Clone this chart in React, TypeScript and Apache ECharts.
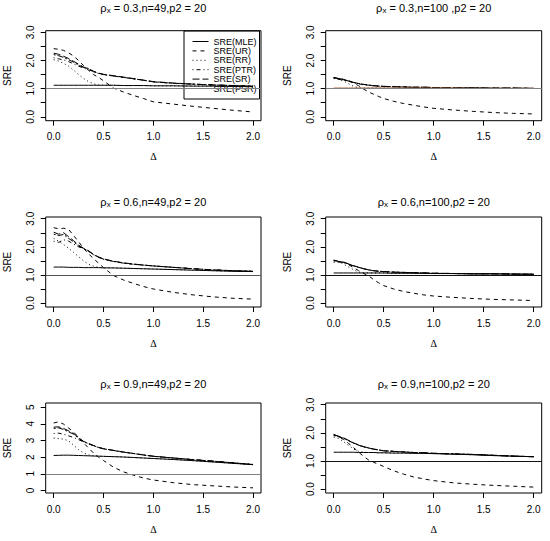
import React, { useEffect, useRef } from "react";
import * as echarts from "echarts";

// ---------- data ----------
const DELTA = [0, 0.05, 0.1, 0.15, 0.2, 0.25, 0.3, 0.35, 0.4, 0.45, 0.5, 0.6, 0.7, 0.8, 0.9, 1.0, 1.2, 1.4, 1.6, 1.8, 2.0];
const X_TICKS = [0, 0.5, 1, 1.5, 2];
const Y_TICKS_3 = [0, 0.5, 1, 1.5, 2, 2.5, 3];
const Y_LABELS_3 = [0, 1, 2, 3];
const Y_TICKS_5 = [0, 1, 2, 3, 4, 5];
const ESTIMATORS = ["SRE(MLE)", "SRE(UR)", "SRE(RR)", "SRE(PTR)", "SRE(SR)", "SRE(PSR)"];
const TITLE_RHO = ["0.3", "0.3", "0.6", "0.6", "0.9", "0.9"];
const TITLE_REST = [",n=49,p2 = 20", ",n=100 ,p2 = 20", ",n=49,p2 = 20", ",n=100,p2 = 20", ",n=49,p2 = 20", ",n=100,p2 = 20"];

// panel 1: rho 0.3, n 49
const P1_MLE = [1.12, 1.12, 1.12, 1.12, 1.12, 1.12, 1.12, 1.12, 1.12, 1.12, 1.12, 1.12, 1.11, 1.11, 1.11, 1.10, 1.10, 1.09, 1.09, 1.08, 1.07];
const P1_UR = [2.42, 2.40, 2.36, 2.27, 2.16, 2.00, 1.82, 1.65, 1.50, 1.40, 1.28, 1.02, 0.88, 0.76, 0.65, 0.53, 0.45, 0.37, 0.30, 0.23, 0.17];
const P1_RR = [2.03, 1.98, 1.90, 1.80, 1.66, 1.50, 1.36, 1.25, 1.17, 1.13, 1.12, 1.12, 1.11, 1.11, 1.11, 1.10, 1.10, 1.09, 1.09, 1.08, 1.07];
const P1_PTR = [2.10, 2.06, 2.02, 1.96, 1.88, 1.80, 1.73, 1.67, 1.61, 1.55, 1.50, 1.45, 1.40, 1.35, 1.30, 1.24, 1.19, 1.16, 1.13, 1.11, 1.09];
const P1_SR = [2.26, 2.22, 2.15, 2.07, 1.97, 1.87, 1.77, 1.70, 1.62, 1.55, 1.51, 1.46, 1.41, 1.36, 1.30, 1.25, 1.20, 1.16, 1.13, 1.11, 1.09];
const P1_PSR = [2.21, 2.17, 2.11, 2.03, 1.94, 1.84, 1.75, 1.72, 1.60, 1.54, 1.50, 1.45, 1.40, 1.35, 1.30, 1.24, 1.19, 1.16, 1.13, 1.11, 1.09];

// panel 2: rho 0.3, n 100
const P2_MLE = [1.02, 1.02, 1.02, 1.02, 1.02, 1.02, 1.02, 1.02, 1.02, 1.02, 1.02, 1.02, 1.02, 1.02, 1.02, 1.02, 1.02, 1.01, 1.01, 1.01, 1.01];
const P2_UR = [1.40, 1.37, 1.33, 1.28, 1.20, 1.10, 0.98, 0.88, 0.80, 0.72, 0.65, 0.55, 0.47, 0.41, 0.35, 0.30, 0.24, 0.19, 0.15, 0.12, 0.10];
const P2_RR = [1.38, 1.33, 1.27, 1.17, 1.08, 1.03, 1.02, 1.02, 1.02, 1.02, 1.02, 1.02, 1.02, 1.02, 1.02, 1.02, 1.02, 1.01, 1.01, 1.01, 1.01];
const P2_PTR = [1.36, 1.33, 1.30, 1.26, 1.21, 1.17, 1.14, 1.12, 1.10, 1.09, 1.08, 1.07, 1.06, 1.05, 1.05, 1.04, 1.03, 1.03, 1.02, 1.02, 1.01];
const P2_SR = [1.39, 1.35, 1.31, 1.27, 1.22, 1.18, 1.15, 1.12, 1.10, 1.09, 1.08, 1.07, 1.06, 1.05, 1.05, 1.04, 1.03, 1.03, 1.02, 1.02, 1.01];
const P2_PSR = [1.38, 1.36, 1.32, 1.28, 1.22, 1.18, 1.15, 1.13, 1.11, 1.09, 1.08, 1.07, 1.06, 1.05, 1.05, 1.04, 1.03, 1.03, 1.02, 1.02, 1.01];

// panel 3: rho 0.6, n 49
const P3_MLE = [1.28, 1.28, 1.28, 1.27, 1.27, 1.27, 1.26, 1.26, 1.26, 1.26, 1.25, 1.25, 1.24, 1.23, 1.22, 1.21, 1.19, 1.17, 1.15, 1.13, 1.12];
const P3_UR = [2.68, 2.64, 2.66, 2.62, 2.40, 2.18, 1.95, 1.75, 1.58, 1.42, 1.26, 0.98, 0.82, 0.70, 0.59, 0.50, 0.38, 0.29, 0.22, 0.17, 0.14];
const P3_RR = [2.30, 2.20, 2.08, 1.95, 1.80, 1.65, 1.50, 1.38, 1.31, 1.27, 1.26, 1.25, 1.24, 1.23, 1.22, 1.21, 1.19, 1.17, 1.15, 1.13, 1.12];
const P3_PTR = [2.20, 2.16, 2.25, 2.20, 2.10, 2.00, 1.93, 1.84, 1.72, 1.63, 1.56, 1.48, 1.42, 1.38, 1.35, 1.32, 1.27, 1.22, 1.18, 1.15, 1.13];
const P3_SR = [2.52, 2.45, 2.50, 2.36, 2.22, 2.06, 1.95, 1.86, 1.73, 1.64, 1.57, 1.49, 1.43, 1.39, 1.35, 1.32, 1.27, 1.22, 1.18, 1.15, 1.13];
const P3_PSR = [2.45, 2.40, 2.44, 2.30, 2.18, 2.03, 1.94, 1.85, 1.72, 1.63, 1.56, 1.48, 1.42, 1.38, 1.35, 1.32, 1.27, 1.22, 1.18, 1.15, 1.13];

// panel 4: rho 0.6, n 100
const P4_MLE = [1.07, 1.07, 1.07, 1.07, 1.07, 1.07, 1.07, 1.07, 1.07, 1.07, 1.07, 1.06, 1.06, 1.06, 1.06, 1.05, 1.05, 1.04, 1.04, 1.03, 1.03];
const P4_UR = [1.52, 1.48, 1.44, 1.36, 1.26, 1.15, 1.05, 0.97, 0.83, 0.72, 0.62, 0.50, 0.41, 0.35, 0.29, 0.25, 0.20, 0.16, 0.13, 0.11, 0.09];
const P4_RR = [1.45, 1.47, 1.38, 1.28, 1.18, 1.10, 1.08, 1.07, 1.07, 1.07, 1.07, 1.06, 1.06, 1.06, 1.06, 1.05, 1.05, 1.04, 1.04, 1.03, 1.03];
const P4_PTR = [1.50, 1.46, 1.45, 1.38, 1.32, 1.27, 1.22, 1.18, 1.15, 1.13, 1.12, 1.10, 1.09, 1.08, 1.07, 1.06, 1.05, 1.04, 1.04, 1.03, 1.02];
const P4_SR = [1.53, 1.48, 1.46, 1.39, 1.33, 1.27, 1.22, 1.18, 1.15, 1.13, 1.12, 1.10, 1.09, 1.08, 1.07, 1.06, 1.05, 1.04, 1.04, 1.03, 1.02];
const P4_PSR = [1.51, 1.47, 1.45, 1.38, 1.32, 1.27, 1.22, 1.18, 1.15, 1.13, 1.12, 1.10, 1.09, 1.08, 1.07, 1.06, 1.05, 1.04, 1.04, 1.03, 1.02];

// panel 5: rho 0.9, n 49
const P5_MLE = [2.10, 2.11, 2.12, 2.12, 2.11, 2.10, 2.09, 2.08, 2.07, 2.06, 2.05, 2.03, 2.01, 1.98, 1.95, 1.92, 1.86, 1.79, 1.71, 1.63, 1.55];
const P5_UR = [4.05, 4.12, 3.98, 3.75, 3.50, 3.20, 2.85, 2.55, 2.25, 2.00, 1.80, 1.40, 1.12, 0.92, 0.75, 0.63, 0.47, 0.35, 0.28, 0.21, 0.16];
const P5_RR = [3.15, 3.12, 3.08, 2.98, 2.72, 2.45, 2.25, 2.13, 2.08, 2.06, 2.05, 2.03, 2.01, 1.98, 1.95, 1.92, 1.86, 1.79, 1.71, 1.63, 1.55];
const P5_PTR = [3.42, 3.44, 3.38, 3.28, 3.18, 3.05, 2.92, 2.80, 2.68, 2.58, 2.50, 2.40, 2.30, 2.22, 2.13, 2.05, 1.95, 1.85, 1.76, 1.66, 1.56];
const P5_SR = [3.80, 3.82, 3.72, 3.58, 3.42, 3.18, 2.95, 2.82, 2.70, 2.59, 2.51, 2.41, 2.31, 2.22, 2.14, 2.06, 1.95, 1.85, 1.76, 1.66, 1.56];
const P5_PSR = [3.72, 3.76, 3.66, 3.52, 3.38, 3.14, 2.93, 2.81, 2.69, 2.58, 2.50, 2.40, 2.30, 2.22, 2.13, 2.05, 1.95, 1.85, 1.76, 1.66, 1.56];

// panel 6: rho 0.9, n 100
const P6_MLE = [1.31, 1.31, 1.31, 1.31, 1.31, 1.30, 1.30, 1.30, 1.30, 1.29, 1.29, 1.28, 1.28, 1.27, 1.27, 1.26, 1.24, 1.22, 1.19, 1.17, 1.15];
const P6_UR = [1.95, 1.86, 1.76, 1.62, 1.47, 1.31, 1.16, 1.03, 0.95, 0.88, 0.80, 0.65, 0.53, 0.43, 0.36, 0.30, 0.22, 0.17, 0.13, 0.10, 0.07];
const P6_RR = [1.85, 1.80, 1.68, 1.55, 1.42, 1.34, 1.31, 1.30, 1.30, 1.29, 1.29, 1.28, 1.28, 1.27, 1.27, 1.26, 1.24, 1.22, 1.19, 1.17, 1.15];
const P6_PTR = [1.92, 1.86, 1.80, 1.72, 1.63, 1.56, 1.50, 1.46, 1.42, 1.39, 1.36, 1.34, 1.32, 1.30, 1.29, 1.27, 1.25, 1.23, 1.20, 1.17, 1.15];
const P6_SR = [1.93, 1.88, 1.82, 1.73, 1.64, 1.57, 1.51, 1.46, 1.42, 1.39, 1.36, 1.34, 1.32, 1.30, 1.29, 1.27, 1.25, 1.23, 1.20, 1.17, 1.15];
const P6_PSR = [1.90, 1.87, 1.80, 1.72, 1.63, 1.56, 1.50, 1.46, 1.42, 1.39, 1.36, 1.34, 1.32, 1.30, 1.29, 1.27, 1.25, 1.23, 1.20, 1.17, 1.15];

const PANEL_DATA = [
  [P1_MLE, P1_UR, P1_RR, P1_PTR, P1_SR, P1_PSR],
  [P2_MLE, P2_UR, P2_RR, P2_PTR, P2_SR, P2_PSR],
  [P3_MLE, P3_UR, P3_RR, P3_PTR, P3_SR, P3_PSR],
  [P4_MLE, P4_UR, P4_RR, P4_PTR, P4_SR, P4_PSR],
  [P5_MLE, P5_UR, P5_RR, P5_PTR, P5_SR, P5_PSR],
  [P6_MLE, P6_UR, P6_RR, P6_PTR, P6_SR, P6_PSR],
];

// ---------- layout & style ----------
const SANS = "'Liberation Sans', Arial, Helvetica, sans-serif";
const SERIF = "'Liberation Serif', 'DejaVu Serif', serif";
const COL_LEFT = [45.7, 325.7];
const COL_WIDTH = [215.3, 216];
const ROW_TOP = [30.7, 217, 403];
const GRID_H = 90;
const TITLE_Y = [7.5, 201.7, 383.5];
const DASHES: any[] = ["solid", [4, 4], [1, 3], [1, 3, 4, 3], [7, 3], [2, 2, 6, 2]];
const REF_COLORS = ["#808080", "#808080", "#555555", "#111111", "#808080", "#111111"];
const MLE_COLORS = ["#000", "#a0522d", "#000", "#000", "#000", "#000"];

export default function App() {
  const ref = useRef<HTMLDivElement>(null);
  useEffect(() => {
    if (!ref.current) return;
    const chart = echarts.init(ref.current, null, { renderer: "svg" });
    const grids: any[] = [];
    const xAxes: any[] = [];
    const yAxes: any[] = [];
    const series: any[] = [];
    const graphics: any[] = [];
    for (let i = 0; i < 6; i++) {
      const r = Math.floor(i / 2);
      const c = i % 2;
      const is5 = i === 4;
      grids.push({
        left: COL_LEFT[c], top: ROW_TOP[r], width: COL_WIDTH[c], height: GRID_H,
        show: true, borderColor: "#000", borderWidth: 1, backgroundColor: "transparent",
      });
      xAxes.push({
        type: "value", gridIndex: i, min: -0.08, max: 2.08,
        axisLine: { show: false, onZero: false },
        axisTick: { show: true, customValues: X_TICKS, length: 5, lineStyle: { color: "#000", width: 1 } },
        axisLabel: {
          customValues: X_TICKS, formatter: (v: number) => Number(v).toFixed(1),
          margin: 11, fontSize: 10, color: "#000", fontFamily: SANS,
        },
        splitLine: { show: false },
        name: "Δ", nameLocation: "middle", nameGap: 31,
        nameTextStyle: { fontSize: 10, color: "#000", fontFamily: SERIF },
      });
      const yt = is5 ? Y_TICKS_5 : Y_TICKS_3;
      const yl = is5 ? Y_TICKS_5 : Y_LABELS_3;
      yAxes.push({
        type: "value", gridIndex: i,
        min: is5 ? -0.15 : -0.14, max: is5 ? 5.25 : 3.06,
        axisLine: { show: false, onZero: false },
        axisTick: { show: true, customValues: yt, length: 5, lineStyle: { color: "#000", width: 1 } },
        axisLabel: {
          customValues: yl, rotate: 90,
          formatter: (v: number) => (is5 ? String(Math.round(v)) : Number(v).toFixed(1)),
          margin: 10, fontSize: 10, color: "#000", fontFamily: SANS,
        },
        splitLine: { show: false },
        name: "SRE", nameLocation: "middle", nameGap: 33, nameRotate: 90,
        nameTextStyle: { fontSize: 10, color: "#000", fontFamily: SANS },
      });
      PANEL_DATA[i].forEach((vals, k) => {
        const s: any = {
          type: "line", name: ESTIMATORS[k], xAxisIndex: i, yAxisIndex: i,
          data: DELTA.map((d, j) => [d, vals[j]]),
          symbol: "none", silent: true, z: k === 0 ? 4 : 3,
          lineStyle: { color: k === 0 ? MLE_COLORS[i] : "#000", width: 1, type: DASHES[k] },
          itemStyle: { color: "#000" },
        };
        if (k === 5) {
          s.markLine = {
            silent: true, symbol: ["none", "none"], label: { show: false },
            lineStyle: { color: REF_COLORS[i], type: "solid", width: 1 },
            data: [{ yAxis: 1 }],
          };
        }
        series.push(s);
      });
      graphics.push({
        type: "text",
        x: COL_LEFT[c] + COL_WIDTH[c] / 2,
        y: TITLE_Y[r],
        style: {
          text: "{a|ρ}{s|x}{a| = " + TITLE_RHO[i] + TITLE_REST[i] + "}",
          align: "center", verticalAlign: "middle",
          rich: {
            a: { fontSize: 11, fontFamily: SANS, fill: "#000" },
            s: { fontSize: 8, fontFamily: SANS, fill: "#000", padding: [6, 0, 0, 0] },
          },
        },
      });
    }
    chart.setOption({
      animation: false,
      backgroundColor: "#fff",
      grid: grids,
      xAxis: xAxes,
      yAxis: yAxes,
      series,
      graphic: graphics,
      legend: {
        data: ESTIMATORS, left: 184, top: 31, orient: "vertical",
        itemWidth: 16, itemHeight: 10, itemGap: 0.4,
        padding: [6, 3, 6, 8], borderColor: "#000", borderWidth: 1, borderRadius: 0,
        selectedMode: false,
        itemStyle: { opacity: 0, borderWidth: 0 },
        lineStyle: { width: 1, color: "#000" },
        textStyle: { fontSize: 9, color: "#000", fontFamily: SANS },
      },
    });
    return () => chart.dispose();
  }, []);
  return (
    <div
      ref={ref}
      style={{ position: "absolute", left: 0, top: 0, width: 550, height: 541, background: "#fff" }}
    />
  );
}
